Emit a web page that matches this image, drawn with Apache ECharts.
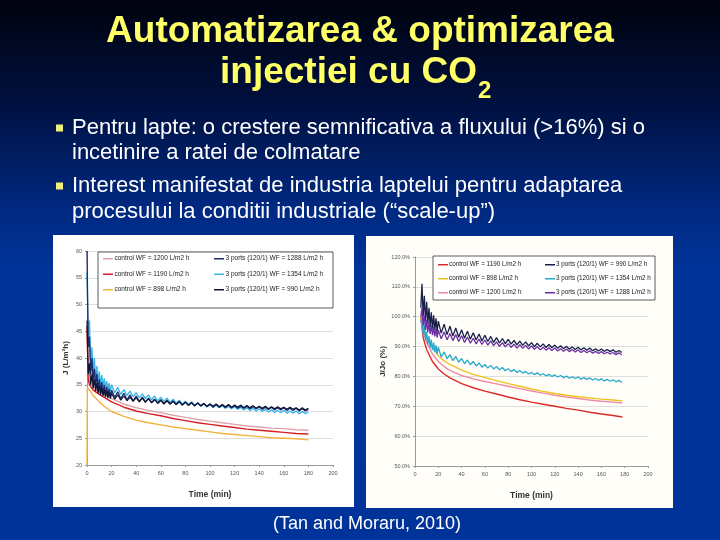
<!DOCTYPE html>
<html><head><meta charset="utf-8">
<script src="https://cdn.jsdelivr.net/npm/echarts@6/dist/echarts.min.js"></script>
<style>html,body{margin:0;padding:0;background:#000;}#c{width:720px;height:540px;}</style>
</head><body><div id="c"></div>
<script>
// ---------- slide text ----------
const titleLine1 = 'Automatizarea & optimizarea';
const titleLine2 = 'injectiei cu CO';
const titleSub = '2';
const bulletLines = [
  ['Pentru lapte: o crestere semnificativa a fluxului (>16%) si o', 'incetinire a ratei de colmatare'],
  ['Interest manifestat de industria laptelui pentru adaptarea', 'procesului la conditii industriale (\u201cscale-up\u201d)']
];
const citation = '(Tan and Moraru, 2010)';

// ---------- left chart: J (L/m2h) vs time ----------
const leftXTicks = [0, 20, 40, 60, 80, 100, 120, 140, 160, 180, 200];
const leftYTicks = [20, 25, 30, 35, 40, 45, 50, 55, 60];
const leftTimeOsc = [0,1,2,3,4,5,6,7,8,9,10,11,12,13,14,15,16,17,18,19,20,22.5,25,27.5,30,32.5,35,37.5,40,42.5,45,47.5,50,52.5,55,57.5,60,62.5,65,67.5,70,72.5,75,77.5,80,82.5,85,87.5,90,92.5,95,97.5,100,102.5,105,107.5,110,112.5,115,117.5,120,122.5,125,127.5,130,132.5,135,137.5,140,142.5,145,147.5,150,152.5,155,157.5,160,162.5,165,167.5,170,172.5,175,177.5,180];
const leftPorts1288 = [60,42,44,37,40,35.5,38,34.8,37,34.2,36,33.8,35.5,33.5,35,33.2,34.6,33,34.3,32.8,34,
  32.6,33.7,32.4,33.4,32.2,33.1,32.0,32.9,31.9,32.7,31.8,32.5,31.7,32.3,31.6,32.2,31.5,32.1,31.4,32.0,31.3,31.9,31.2,31.8,31.1,31.7,31.0,31.6,31.0,31.5,30.9,31.4,30.8,31.3,30.8,31.2,30.7,31.2,30.7,31.1,30.6,31.0,30.6,31.0,30.5,30.9,30.5,30.9,30.4,30.8,30.4,30.8,30.3,30.7,30.3,30.7,30.2,30.6,30.2,30.6,30.1,30.5,30.1,30.4];
const leftPorts1354 = [56,44,47,39,42,37,40,36,38.5,35.4,37.5,35,36.8,34.6,36.2,34.3,35.7,34,35.3,33.8,35,
  33.5,34.5,33.2,34.1,33.0,33.8,32.8,33.5,32.6,33.3,32.4,33.1,32.2,32.9,32.0,32.7,31.9,32.5,31.7,32.3,31.6,32.1,31.4,31.9,31.3,31.8,31.2,31.6,31.0,31.5,30.9,31.3,30.8,31.2,30.7,31.1,30.6,31.0,30.5,30.9,30.4,30.8,30.3,30.7,30.2,30.6,30.1,30.5,30.0,30.4,29.9,30.3,29.8,30.2,29.8,30.2,29.7,30.1,29.7,30.1,29.6,30.0,29.6,29.9];
const leftPorts990 = [47,37,39,35,37,34.3,36,33.8,35.3,33.4,34.8,33.1,34.4,32.9,34.1,32.7,33.8,32.5,33.6,32.4,33.4,
  32.3,33.1,32.1,32.9,32.0,32.7,31.9,32.6,31.8,32.5,31.7,32.4,31.6,32.2,31.5,32.1,31.4,32.0,31.4,31.9,31.3,31.8,31.2,31.7,31.2,31.6,31.1,31.6,31.1,31.5,31.0,31.4,31.0,31.4,30.9,31.3,30.9,31.3,30.8,31.2,30.8,31.2,30.7,31.1,30.7,31.1,30.6,31.0,30.6,31.0,30.5,30.9,30.5,30.9,30.5,30.8,30.4,30.8,30.4,30.7,30.3,30.7,30.3,30.6];
const leftTimeCtrl = [0,1,2,5,10,15,20,30,40,50,60,70,80,90,100,110,120,130,140,150,160,170,180];
const leftCtrl1200 = [46,36.5,35.5,34.5,33.6,33,32.4,31.4,30.7,30.2,29.8,29.3,28.9,28.5,28.2,27.9,27.6,27.3,27.1,26.9,26.8,26.6,26.5];
const leftCtrl1190 = [46,36,35,34,33.2,32.5,31.8,30.8,30.1,29.6,29.2,28.7,28.3,27.9,27.6,27.3,27.0,26.7,26.5,26.3,26.1,25.9,25.8];
const leftTimeCtrl898 = [0,0.3,2,5,10,15,20,30,40,50,60,70,80,90,100,110,120,130,140,150,160,170,180];
const leftCtrl898 = [20,34.5,34,33,31.8,30.8,30,29.1,28.4,27.9,27.5,27.1,26.8,26.5,26.2,25.9,25.7,25.5,25.3,25.1,25.0,24.9,24.7];
const leftLegendCol1 = ['control WF = 1200 L/m2 h', 'control WF = 1190 L/m2 h', 'control WF = 898 L/m2 h'];
const leftLegendCol2 = ['3 ports (120/1) WF = 1288 L/m2 h', '3 ports (120/1) WF = 1354 L/m2 h', '3 ports (120/1) WF = 990 L/m2 h'];

// ---------- right chart: J/Jo (%) vs time ----------
const rightXTicks = [0, 20, 40, 60, 80, 100, 120, 140, 160, 180, 200];
const rightYTicks = [50, 60, 70, 80, 90, 100, 110, 120];
const rightTimeOsc = [5,6,7,8,9,10,11,12,13,14,15,16,17,18,19,20,22.5,25,27.5,30,32.5,35,37.5,40,42.5,45,47.5,50,52.5,55,57.5,60,62.5,65,67.5,70,72.5,75,77.5,80,82.5,85,87.5,90,92.5,95,97.5,100,102.5,105,107.5,110,112.5,115,117.5,120,122.5,125,127.5,130,132.5,135,137.5,140,142.5,145,147.5,150,152.5,155,157.5,160,162.5,165,167.5,170,172.5,175,177.5];
const rightPorts990 = [103,111,100,107,98.5,105,97.5,103,96.5,101.5,96,100.5,95.5,99.5,95,98.5,
  94.5,97.5,94,96.8,93.5,96.2,93.1,95.6,92.8,95.1,92.5,94.6,92.2,94.2,91.9,93.8,91.7,93.4,91.4,93.0,91.2,92.7,91.0,92.4,90.8,92.1,90.6,91.8,90.4,91.6,90.2,91.3,90.0,91.1,89.9,90.9,89.7,90.7,89.6,90.5,89.4,90.3,89.3,90.1,89.1,89.9,89.0,89.8,88.9,89.6,88.8,89.5,88.6,89.3,88.5,89.2,88.4,89.0,88.3,88.9,88.1,88.7,88.0];
const rightPorts1288 = [100,103,97,100.5,95.5,99,94.8,98,94.2,97.2,93.8,96.6,93.4,96,93,95.5,
  92.6,94.9,92.3,94.4,92.0,94.0,91.7,93.6,91.4,93.2,91.1,92.8,90.9,92.5,90.7,92.2,90.5,91.9,90.3,91.6,90.1,91.3,89.9,91.0,89.7,90.8,89.5,90.6,89.4,90.4,89.2,90.2,89.1,90.0,88.9,89.8,88.8,89.6,88.7,89.5,88.5,89.3,88.4,89.2,88.3,89.0,88.2,88.9,88.0,88.7,87.9,88.6,87.8,88.4,87.7,88.3,87.6,88.1,87.5,88.0,87.3,87.9,87.2];
const rightPorts1354 = [98,100,94,97,92,95,90.6,93.5,89.6,92.3,88.8,91.3,88.1,90.5,87.5,89.8,
  86.5,88.2,85.9,87.3,85.3,86.7,84.8,86.0,84.3,85.5,83.9,85.0,83.5,84.5,83.1,84.0,82.8,83.7,82.5,83.3,82.2,83.0,81.9,82.6,81.6,82.3,81.3,82.0,81.1,81.7,80.8,81.4,80.6,81.2,80.4,80.9,80.2,80.7,80.0,80.5,79.8,80.3,79.6,80.1,79.4,79.9,79.3,79.8,79.1,79.6,79.0,79.5,78.8,79.3,78.7,79.2,78.5,79.0,78.4,78.9,78.2,78.7,78.0];
const rightTimeCtrl = [5,7,10,15,20,25,30,40,50,60,70,80,90,100,110,120,130,140,150,160,170,178];
const rightCtrl1190 = [100,93,89,85,82.5,80.8,79.5,77.6,76.2,75.1,74.1,73.1,72.2,71.4,70.7,70.0,69.3,68.7,68.0,67.4,66.9,66.4];
const rightCtrl898 = [100,96,93.5,89.5,87,85.2,84,82.1,80.7,79.6,78.6,77.6,76.7,75.8,75.0,74.3,73.7,73.2,72.8,72.4,72.1,71.8];
const rightCtrl1200 = [100,95,91.5,87.5,85,83.3,82,80.3,79.2,78.3,77.5,76.7,75.9,75.1,74.4,73.7,73.1,72.6,72.1,71.7,71.4,71.1];
const rightLegendCol1 = ['control WF = 1190 L/m2 h', 'control WF = 898 L/m2 h', 'control WF = 1200 L/m2 h'];
const rightLegendCol2 = ['3 ports (120/1) WF = 990 L/m2 h', '3 ports (120/1) WF = 1354 L/m2 h', '3 ports (120/1) WF = 1288 L/m2 h'];

// ---------- build ----------
const zip = (ts, vs) => ts.map((t, i) => [t, vs[i]]);
const FONT = 'Liberation Sans';
const LINE_ICON = 'path://M0,0h10v0.01h-10z M0,3h10v1.6h-10z M0,6.99h10v0.01h-10z';
const chart = echarts.init(document.getElementById('c'), null, {renderer: 'canvas'});

function line(name, x, y, data, color, width) {
  return {type: 'line', name: name, xAxisIndex: x, yAxisIndex: y, data: data,
    showSymbol: false, symbol: 'none', animation: false, silent: true,
    lineStyle: {color: color, width: width}, itemStyle: {color: color}};
}
function legendCol(names, prefix, left, top, gap, w, fs) {
  return {orient: 'vertical', left: left, top: top, itemGap: gap, itemWidth: w, itemHeight: 7,
    padding: 0, selectedMode: false, icon: LINE_ICON, data: names.map(n => prefix + n),
    formatter: n => n.slice(2),
    textStyle: {fontSize: fs, color: '#222', fontFamily: FONT, padding: [0, 0, 0, -4]}};
}
function axisCommon() {
  return {axisLine: {show: true, lineStyle: {color: '#9a9a9a'}},
    axisTick: {show: true, length: 2, lineStyle: {color: '#9a9a9a'}},
    axisLabel: {fontSize: 5.5, color: '#555', fontFamily: FONT, margin: 5}};
}

const series = [
  line('L:' + leftLegendCol1[0], 0, 0, zip(leftTimeCtrl, leftCtrl1200), '#dea3ab', 1.4),
  line('L:' + leftLegendCol1[1], 0, 0, zip(leftTimeCtrl, leftCtrl1190), '#d52029', 1.4),
  line('L:' + leftLegendCol1[2], 0, 0, zip(leftTimeCtrl898, leftCtrl898), '#f3b23a', 1.4),
  line('L:' + leftLegendCol2[1], 0, 0, zip(leftTimeOsc, leftPorts1354), '#36b5e5', 1.3),
  line('L:' + leftLegendCol2[0], 0, 0, zip(leftTimeOsc, leftPorts1288), '#1c2c70', 1.3),
  line('L:' + leftLegendCol2[2], 0, 0, zip(leftTimeOsc, leftPorts990), '#0e1530', 1.2),
  line('R:' + rightLegendCol1[0], 1, 1, zip(rightTimeCtrl, rightCtrl1190), '#dc2a2a', 1.4),
  line('R:' + rightLegendCol1[2], 1, 1, zip(rightTimeCtrl, rightCtrl1200), '#f08aa8', 1.4),
  line('R:' + rightLegendCol1[1], 1, 1, zip(rightTimeCtrl, rightCtrl898), '#eec21c', 1.4),
  line('R:' + rightLegendCol2[1], 1, 1, zip(rightTimeOsc, rightPorts1354), '#26a9ca', 1.3),
  line('R:' + rightLegendCol2[0], 1, 1, zip(rightTimeOsc, rightPorts990), '#18204a', 1.3),
  line('R:' + rightLegendCol2[2], 1, 1, zip(rightTimeOsc, rightPorts1288), '#6b2fa3', 1.3)
];

const titleStyle = {fill: '#ffff66', fontFamily: FONT, fontWeight: 'bold', fontSize: 37,
  shadowColor: 'rgba(0,0,0,0.9)', shadowBlur: 2, shadowOffsetX: 2, shadowOffsetY: 2};
const graphics = [
  {type: 'rect', z: -10, shape: {x: 0, y: 0, width: 720, height: 540},
    style: {fill: new echarts.graphic.LinearGradient(0, 0, 0, 1, [
      {offset: 0, color: '#00030e'}, {offset: 0.18, color: '#000f3c'},
      {offset: 0.38, color: '#00287f'}, {offset: 0.5, color: '#00349a'}, {offset: 1, color: '#003399'}])}},
  {type: 'rect', z: -9, shape: {x: 53, y: 235, width: 301, height: 272}, style: {fill: '#ffffff'}},
  {type: 'rect', z: -9, shape: {x: 366, y: 236, width: 307, height: 272}, style: {fill: '#fffef9'}},
  {type: 'rect', z: 3, shape: {x: 98, y: 252, width: 235, height: 56}, style: {fill: '#ffffff', stroke: '#333', lineWidth: 0.8}},
  {type: 'rect', z: 3, shape: {x: 433, y: 256, width: 222, height: 44}, style: {fill: '#ffffff', stroke: '#333', lineWidth: 0.8}},
  {type: 'text', z: 10, x: 360, y: 32, style: Object.assign({text: titleLine1, textAlign: 'center', textVerticalAlign: 'middle', verticalAlign: 'middle'}, titleStyle)},
  {type: 'text', z: 10, x: 220, y: 73, style: Object.assign({text: titleLine2, textAlign: 'left', textVerticalAlign: 'middle', verticalAlign: 'middle'}, titleStyle)},
  {type: 'text', z: 10, x: 478, y: 91, style: Object.assign({}, titleStyle, {text: titleSub, fontSize: 24, textAlign: 'left', textVerticalAlign: 'middle', verticalAlign: 'middle'})},
  {type: 'text', z: 10, x: 367, y: 524, style: {text: citation, fill: '#ffffff', fontFamily: FONT, fontSize: 18, textAlign: 'center', textVerticalAlign: 'middle', verticalAlign: 'middle'}}
];
const bulletY = [[128, 153], [186, 212]];
bulletLines.forEach((lines, b) => {
  graphics.push({type: 'rect', z: 10, shape: {x: 56, y: bulletY[b][0] - 3.5, width: 7, height: 7}, style: {fill: '#f0f07a'}});
  lines.forEach((t, i) => graphics.push({type: 'text', z: 10, x: 72, y: bulletY[b][i],
    style: {text: t, fill: '#ffffff', fontFamily: FONT, fontSize: 22, textAlign: 'left', textVerticalAlign: 'middle', verticalAlign: 'middle'}}));
});

const option = {
  animation: false,
  graphic: {elements: graphics},
  grid: [
    {left: 87, top: 251, width: 246, height: 214},
    {left: 415, top: 257, width: 233, height: 209}
  ],
  xAxis: [
    Object.assign(axisCommon(), {type: 'value', gridIndex: 0, min: leftXTicks[0], max: leftXTicks[leftXTicks.length - 1], interval: 20,
      splitLine: {show: false}, name: 'Time (min)', nameLocation: 'middle', nameGap: 25,
      nameTextStyle: {fontSize: 8.5, fontWeight: 'bold', color: '#333', fontFamily: FONT}}),
    Object.assign(axisCommon(), {type: 'value', gridIndex: 1, min: rightXTicks[0], max: rightXTicks[rightXTicks.length - 1], interval: 20,
      splitLine: {show: false}, name: 'Time (min)', nameLocation: 'middle', nameGap: 25,
      nameTextStyle: {fontSize: 8.5, fontWeight: 'bold', color: '#333', fontFamily: FONT}})
  ],
  yAxis: [
    Object.assign(axisCommon(), {type: 'value', gridIndex: 0, min: leftYTicks[0], max: leftYTicks[leftYTicks.length - 1], interval: 5,
      splitLine: {show: true, lineStyle: {color: '#d6d6d6', width: 0.8}}, name: 'J (L/m\u00b2h)', nameLocation: 'middle', nameGap: 17,
      nameTextStyle: {fontSize: 8, fontWeight: 'bold', color: '#333', fontFamily: FONT}}),
    Object.assign(axisCommon(), {type: 'value', gridIndex: 1, min: rightYTicks[0], max: rightYTicks[rightYTicks.length - 1], interval: 10,
      splitLine: {show: true, lineStyle: {color: '#d6d6d6', width: 0.8}}, name: 'J/Jo (%)', nameLocation: 'middle', nameGap: 28,
      axisLabel: {fontSize: 5.5, color: '#555', fontFamily: FONT, margin: 5, formatter: v => v.toFixed(1) + '%'},
      nameTextStyle: {fontSize: 8, fontWeight: 'bold', color: '#333', fontFamily: FONT}})
  ],
  legend: [
    legendCol(leftLegendCol1, 'L:', 103, 255, 8.5, 11, 6.5),
    legendCol(leftLegendCol2, 'L:', 214, 255, 8.5, 11, 6.5),
    legendCol(rightLegendCol1, 'R:', 438, 261, 7, 10, 6.3),
    legendCol(rightLegendCol2, 'R:', 545, 261, 7, 10, 6.3)
  ],
  series: series
};
chart.setOption(option);
</script>
</body></html>
